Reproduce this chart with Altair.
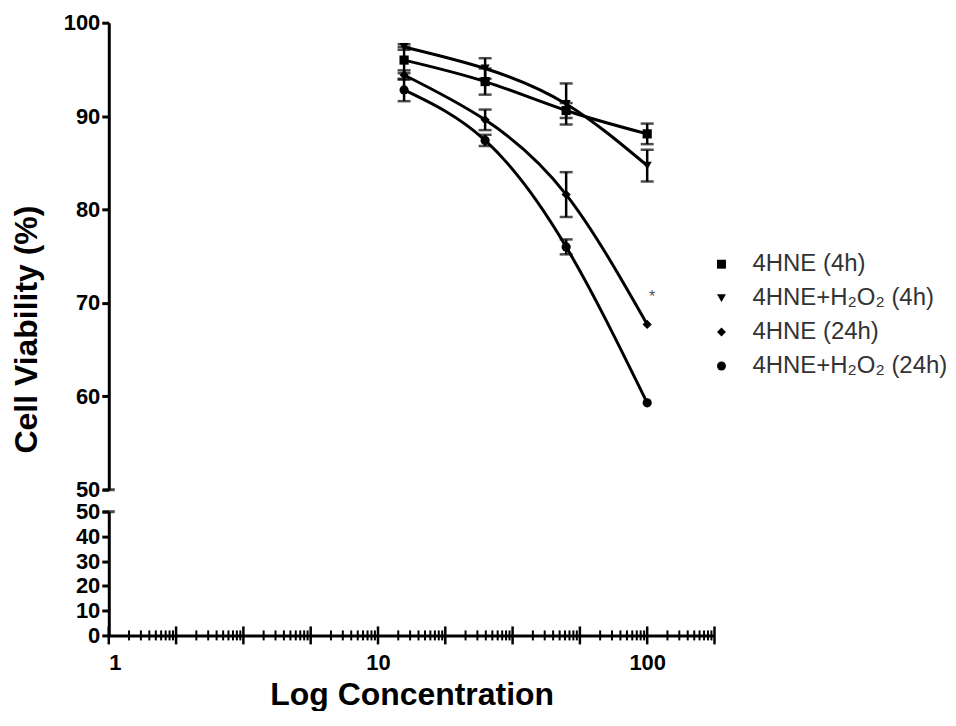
import altair as alt
import pandas as pd
import math

# ---- data ----
conc = [12.5, 25, 50, 100]
series = ["4HNE (4h)", "4HNE+H₂O₂ (4h)", "4HNE (24h)", "4HNE+H₂O₂ (24h)"]
shapes = ["square", "triangle-down", "diamond", "circle"]

v_4hne_4h = [96.0, 93.7, 90.6, 88.1]
e_4hne_4h = [1.4, 1.4, 0.8, 1.1]
v_h2o2_4h = [97.4, 95.1, 91.3, 84.7]
e_h2o2_4h = [0.3, 1.1, 2.2, 1.7]
v_4hne_24h = [94.4, 89.6, 81.6, 67.7]
e_4hne_24h = [0.5, 1.1, 2.4, 0.0]
v_h2o2_24h = [92.8, 87.4, 76.0, 59.3]
e_h2o2_24h = [1.2, 0.6, 0.8, 0.0]

star_x = [100]
star_y = [70.6]

# x-axis ticks (GraphPad-style quarter-decade groups)
quarter_steps = [0, 1, 2, 3, 4, 5, 6, 7, 8, 9]
minor_k = [2, 3, 4, 5, 6, 7, 8, 9]
x_labels = [1, 10, 100]
y_upper_ticks = [50, 60, 70, 80, 90, 100]
y_lower_ticks = [0, 10, 20, 30, 40, 50]

vals = [v_4hne_4h, v_h2o2_4h, v_4hne_24h, v_h2o2_24h]
errs = [e_4hne_4h, e_h2o2_4h, e_4hne_24h, e_h2o2_24h]

rows = []
for s, vv, ee in zip(series, vals, errs):
    for c, v, e in zip(conc, vv, ee):
        rows.append({"series": s, "conc": c, "v": v, "err": e,
                     "lo": v - e, "hi": v + e})
df = pd.DataFrame(rows)
df_err = df[df["err"] > 0]
caps = pd.concat([
    df_err[["series", "conc"]].assign(cap=df_err["lo"]),
    df_err[["series", "conc"]].assign(cap=df_err["hi"]),
])

major_ticks = pd.DataFrame({"t": [10 ** (q / 4) for q in quarter_steps]})
minor_ticks = pd.DataFrame({"t": [10 ** ((q + math.log10(k)) / 4)
                                  for q in quarter_steps[:-1] for k in minor_k]})

FONT = "Liberation Sans"
XMAX = 10 ** 2.25
W = 607
H_UP = 468
H_LO = 124

xscale = alt.Scale(type="log", domain=[1, XMAX], nice=False)
yscale_up = alt.Scale(domain=[50, 100], nice=False, zero=False)
yscale_lo = alt.Scale(domain=[0, 50], nice=False)

up_axis = alt.Axis(
    values=y_upper_ticks, grid=False, title="Cell Viability (%)",
    titleFontSize=32, titleFont=FONT, titleFontWeight="bold", titleColor="black",
    titleX=-82, titleY=307, titleAngle=270, titleBaseline="middle", titleAlign="center",
    labelFontSize=22, labelFont=FONT, labelFontWeight="bold", labelColor="black",
    labelPadding=2, domainColor="black", domainWidth=3,
    tickColor="black", tickWidth=3, tickSize=7,
)

X_up = alt.X("conc:Q", scale=xscale, axis=None)
Y_up = alt.Y("v:Q", scale=yscale_up, axis=up_axis)

base = alt.Chart(df)
lines = base.mark_line(color="black", strokeWidth=3, interpolate="natural").encode(
    x=X_up, y=Y_up, detail="series:N"
)
points = base.mark_point(filled=True, color="black", opacity=1, size=85).encode(
    x=X_up, y=Y_up,
    shape=alt.Shape("series:N", scale=alt.Scale(domain=series, range=shapes),
                    legend=alt.Legend(
                        title=None, orient="none", legendX=602, legendY=230,
                        labelFontSize=24, labelFont=FONT, labelColor="#333333",
                        labelOffset=19, labelLimit=400, rowPadding=10, symbolSize=80,
                        symbolFillColor="black", symbolStrokeColor="black",
                        symbolStrokeWidth=0)),
)
err_rules = alt.Chart(df_err).mark_rule(color="black", strokeWidth=2.5).encode(
    x=X_up, y=alt.Y("lo:Q", scale=yscale_up), y2="hi:Q"
)
err_caps = alt.Chart(caps).mark_tick(color="black", orient="horizontal", size=13,
                                     thickness=2.5).encode(
    x=X_up, y=alt.Y("cap:Q", scale=yscale_up)
)
star = alt.Chart(pd.DataFrame({"conc": star_x, "v": star_y})).mark_text(
    text="*", fontSize=16, color="#555555", dx=5, font=FONT
).encode(x=X_up, y=alt.Y("v:Q", scale=yscale_up))
up_break = alt.Chart(pd.DataFrame({"b": [50]})).mark_tick(
    color="black", orient="horizontal", size=12, thickness=3
).encode(x=alt.value(0), y=alt.Y("b:Q", scale=yscale_up))

upper = alt.layer(lines, err_rules, err_caps, points, star, up_break).properties(
    width=W, height=H_UP
)

# ---- lower panel ----
lo_y_axis = alt.Axis(
    values=y_lower_ticks, grid=False, title=None,
    labelFontSize=22, labelFont=FONT, labelFontWeight="bold", labelColor="black",
    labelPadding=2, domainColor="black", domainWidth=3,
    tickColor="black", tickWidth=3, tickSize=7,
)
x_axis = alt.Axis(
    values=x_labels, format="d", grid=False, ticks=False,
    labelFontSize=22, labelFont=FONT, labelFontWeight="bold", labelColor="black",
    labelPadding=17, domainColor="black", domainWidth=3,
    title="Log Concentration", titleFontSize=32, titleFont=FONT,
    titleFontWeight="bold", titleColor="black", titlePadding=6,
)
lo_break = alt.Chart(pd.DataFrame({"b": [50]})).mark_tick(
    color="black", orient="horizontal", size=12, thickness=3
).encode(x=alt.value(0), y=alt.Y("b:Q", scale=yscale_lo, axis=lo_y_axis))
major = alt.Chart(major_ticks).mark_rule(color="black", strokeWidth=2.5).encode(
    x=alt.X("t:Q", scale=xscale, axis=x_axis),
    y=alt.value(H_LO - 9), y2=alt.value(H_LO + 9),
)
minor = alt.Chart(minor_ticks).mark_rule(color="black", strokeWidth=2).encode(
    x=alt.X("t:Q", scale=xscale),
    y=alt.value(H_LO - 5), y2=alt.value(H_LO + 5),
)
lower = alt.layer(lo_break, major, minor).properties(width=W, height=H_LO)

chart = alt.vconcat(upper, lower, spacing=22, bounds="flush").resolve_scale(
    shape="independent"
).properties(
    padding={"left": 3, "top": 3, "right": 0, "bottom": 0}
).configure(font=FONT).configure_view(stroke=None)

chart.save("out.html", embed_options={"renderer": "svg", "actions": False})
